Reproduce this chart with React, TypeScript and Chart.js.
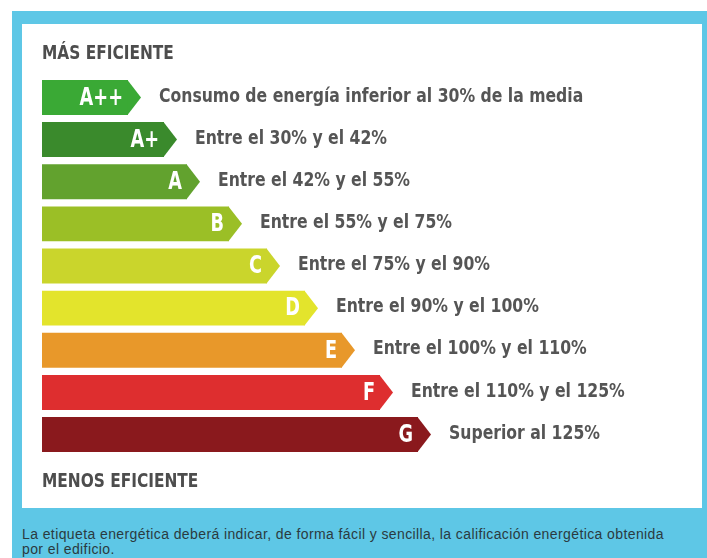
import React, { useEffect, useRef } from "react";
import { Chart, registerables } from "chart.js";

Chart.register(...registerables);

const ratings = ["A++", "A+", "A", "B", "C", "D", "E", "F", "G"];
const barLengths = [86, 122, 145, 187, 225, 263, 300, 338, 376];
const descriptions = [
  "Consumo de energía inferior al 30% de la media",
  "Entre el 30% y el 42%",
  "Entre el 42% y el 55%",
  "Entre el 55% y el 75%",
  "Entre el 75% y el 90%",
  "Entre el 90% y el 100%",
  "Entre el 100% y el 110%",
  "Entre el 110% y el 125%",
  "Superior al 125%",
];
const barColors = [
  "#3aa935",
  "#3a8a2c",
  "#62a22e",
  "#9bbf26",
  "#cad52c",
  "#e3e42c",
  "#e8982a",
  "#de2e2f",
  "#8a191d",
];
const topLabel = "MÁS EFICIENTE";
const bottomLabel = "MENOS EFICIENTE";
const caption1 =
  "La etiqueta energética deberá indicar, de forma fácil y sencilla, la calificación energética obtenida";
const caption2 = "por el edificio.";

const FONT = '"Liberation Sans Narrow", "DejaVu Sans Condensed", "Liberation Sans", sans-serif';
const TIP = 13;

function drawCondensed(ctx: any, text: string, x: number, y: number, align: string, sx: number) {
  ctx.save();
  ctx.translate(x, y);
  ctx.scale(sx, 1);
  ctx.textAlign = align;
  ctx.textBaseline = "middle";
  ctx.fillText(text, 0, 0);
  ctx.restore();
}

const arrowPlugin = {
  id: "arrowLabels",
  afterDatasetsDraw(chart: any) {
    const ctx = chart.ctx;
    const meta = chart.getDatasetMeta(0);
    meta.data.forEach((el: any, i: number) => {
      const x = el.x;
      const y = el.y;
      const h = el.height;
      ctx.save();
      ctx.fillStyle = barColors[i];
      ctx.beginPath();
      ctx.moveTo(x - 0.5, y - h / 2);
      ctx.lineTo(x + TIP, y);
      ctx.lineTo(x - 0.5, y + h / 2);
      ctx.closePath();
      ctx.fill();

      ctx.fillStyle = "#ffffff";
      ctx.font = `bold 24px ${FONT}`;
      drawCondensed(ctx, ratings[i], x - 5, y + 1, "right", 0.82);

      ctx.fillStyle = "#555555";
      ctx.font = `bold 20px ${FONT}`;
      drawCondensed(ctx, descriptions[i], x + TIP + 18, y - 1, "left", 0.87);
      ctx.restore();
    });
  },
  afterDraw(chart: any) {
    const ctx = chart.ctx;
    const area = chart.chartArea;
    ctx.save();
    ctx.fillStyle = "#4d4d4d";
    ctx.font = `bold 19px ${FONT}`;
    drawCondensed(ctx, topLabel, area.left, area.top - 22.4, "left", 0.9);
    drawCondensed(ctx, bottomLabel, area.left, area.bottom + 26.4, "left", 0.9);
    ctx.restore();
  },
};

export default function App() {
  const canvasRef = useRef<HTMLCanvasElement | null>(null);

  useEffect(() => {
    if (!canvasRef.current) return;
    const chart = new Chart(canvasRef.current, {
      type: "bar",
      data: {
        labels: ratings,
        datasets: [
          {
            data: barLengths,
            backgroundColor: barColors,
            borderWidth: 0,
            barPercentage: 0.83,
            categoryPercentage: 1,
          },
        ],
      },
      options: {
        indexAxis: "y",
        responsive: false,
        animation: false,
        layout: { padding: { left: 20, right: 40, top: 0, bottom: 0 } },
        scales: {
          x: { display: false, min: 0, max: 620 },
          y: { display: false },
        },
        plugins: {
          legend: { display: false },
          tooltip: { enabled: false },
          title: {
            display: true,
            text: topLabel,
            align: "start",
            color: "rgba(0,0,0,0)",
            font: { family: FONT, size: 19, weight: "bold" },
            padding: { top: 18.6, bottom: 11 },
          },
          subtitle: {
            display: true,
            position: "bottom",
            text: bottomLabel,
            align: "start",
            color: "rgba(0,0,0,0)",
            font: { family: FONT, size: 19, weight: "bold" },
            padding: { top: 15, bottom: 14.6 },
          },
        },
      },
      plugins: [arrowPlugin],
    } as any);
    return () => chart.destroy();
  }, []);

  return (
    <div
      style={{
        position: "absolute",
        left: 0,
        top: 0,
        width: 707,
        height: 558,
        background: "#ffffff",
        overflow: "hidden",
      }}
    >
      <div
        style={{
          position: "absolute",
          left: 12,
          top: 11,
          width: 695,
          height: 547,
          background: "#5ec7e6",
        }}
      />
      <div
        style={{
          position: "absolute",
          left: 22,
          top: 24,
          width: 680,
          height: 484,
          background: "#ffffff",
        }}
      >
        <canvas ref={canvasRef} width={680} height={484} style={{ display: "block" }} />
      </div>
      <div
        style={{
          position: "absolute",
          left: 22,
          top: 527,
          whiteSpace: "nowrap",
          fontFamily: '"Liberation Sans", Arial, sans-serif',
          fontSize: 14,
          letterSpacing: "0.4px",
          lineHeight: "15px",
          color: "#2b3a40",
        }}
      >
        {caption1}
        <br />
        {caption2}
      </div>
    </div>
  );
}
